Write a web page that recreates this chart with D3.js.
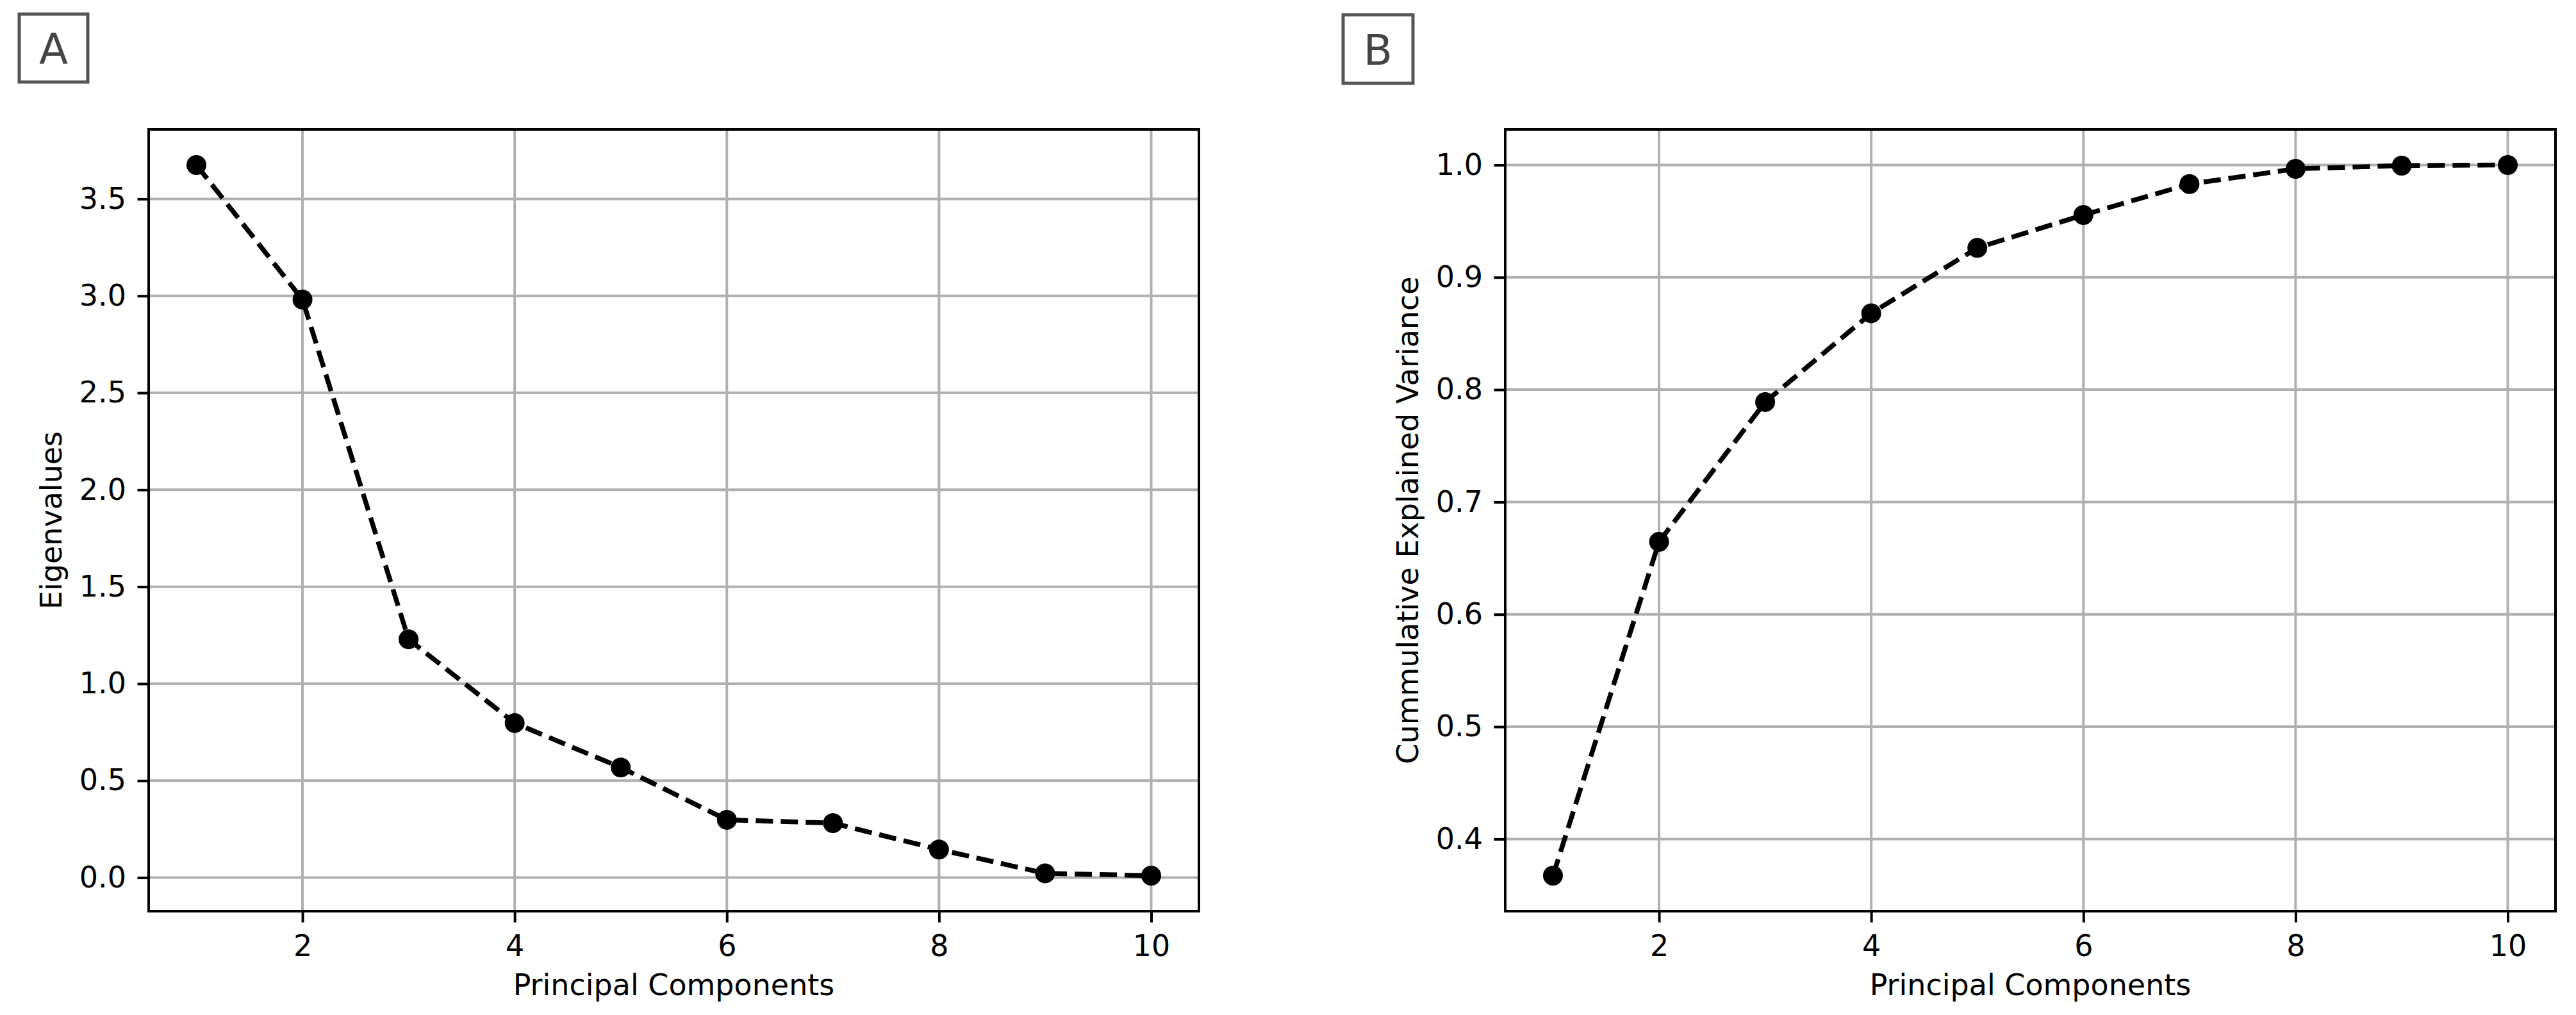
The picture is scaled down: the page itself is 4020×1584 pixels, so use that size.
<!DOCTYPE html>
<html>
<head>
<meta charset="utf-8">
<script src="https://cdn.jsdelivr.net/npm/d3@7"></script>
<style>
  html, body { margin: 0; padding: 0; background: #ffffff; }
  svg { display: block; }
  text { font-family: "DejaVu Sans", sans-serif; }
</style>
</head>
<body>
<svg id="chart" width="4020" height="1584"></svg>
<script>
// ---- Data ----
const components = [1, 2, 3, 4, 5, 6, 7, 8, 9, 10];
const eigenvalues = [3.675, 2.981, 1.229, 0.797, 0.568, 0.298, 0.281, 0.145, 0.022, 0.01];
const cumulativeVariance = [0.3674, 0.6646, 0.789, 0.868, 0.9262, 0.9555, 0.983, 0.9966, 0.9994, 1.0];
const xTicks = [2, 4, 6, 8, 10];
const yTicksA = [0.0, 0.5, 1.0, 1.5, 2.0, 2.5, 3.0, 3.5];
const yTicksB = [0.4, 0.5, 0.6, 0.7, 0.8, 0.9, 1.0];
const panelLetters = ["A", "B"];
const xLabel = "Principal Components";
const yLabels = ["Eigenvalues", "Cummulative Explained Variance"];

// ---- Layout ----
(function () {
const svg = d3.select("#chart");
svg.append("rect").attr("width", 4020).attr("height", 1584).attr("fill", "#fff");

const plotTop = 202, plotBottom = 1422;
const panels = [
  { left: 232, right: 1871, values: eigenvalues, yTicks: yTicksA, yLabel: yLabels[0], letter: panelLetters[0], box: { x: 30, y: 22, w: 107, h: 106 } },
  { left: 2349, right: 3988, values: cumulativeVariance, yTicks: yTicksB, yLabel: yLabels[1], letter: panelLetters[1], box: { x: 2096, y: 23, w: 109, h: 107 } }
];

const FS = 46;
const TICK = 17.5;
const PAD = 17.5;

function padded(ext) {
  const m = (ext[1] - ext[0]) * 0.05;
  return [ext[0] - m, ext[1] + m];
}

panels.forEach(p => {
  const g = svg.append("g");
  const x = d3.scaleLinear().domain(padded(d3.extent(components))).range([p.left, p.right]);
  const y = d3.scaleLinear().domain(padded(d3.extent(p.values))).range([plotBottom, plotTop]);

  // grid
  g.append("g").selectAll("line").data(xTicks).join("line")
    .attr("x1", d => x(d)).attr("x2", d => x(d))
    .attr("y1", plotTop).attr("y2", plotBottom)
    .attr("stroke", "#b0b0b0").attr("stroke-width", 4);
  g.append("g").selectAll("line").data(p.yTicks).join("line")
    .attr("y1", d => y(d)).attr("y2", d => y(d))
    .attr("x1", p.left).attr("x2", p.right)
    .attr("stroke", "#b0b0b0").attr("stroke-width", 4);

  // axes
  const xAxis = d3.axisBottom(x).tickValues(xTicks).tickSize(TICK).tickPadding(PAD).tickFormat(d3.format("d"));
  const yAxis = d3.axisLeft(y).tickValues(p.yTicks).tickSize(TICK).tickPadding(PAD).tickFormat(d3.format(".1f"));
  const gx = g.append("g").attr("transform", `translate(0,${plotBottom})`).call(xAxis);
  const gy = g.append("g").attr("transform", `translate(${p.left},0)`).call(yAxis);
  [gx, gy].forEach(a => {
    a.select(".domain").remove();
    a.selectAll(".tick line").attr("stroke", "#000").attr("stroke-width", 4);
    a.selectAll(".tick text").attr("fill", "#000").style("font-size", FS + "px").style("font-family", "DejaVu Sans");
  });
  gx.selectAll(".tick text").attr("dy", "0.76em");

  // line + markers
  const pts = components.map((c, i) => [c, p.values[i]]);
  const line = d3.line().x(d => x(d[0])).y(d => y(d[1]));
  g.append("path").datum(pts).attr("d", line)
    .attr("fill", "none").attr("stroke", "#000").attr("stroke-width", 7.5)
    .attr("stroke-dasharray", "27,12");
  g.append("g").selectAll("circle").data(pts).join("circle")
    .attr("cx", d => x(d[0])).attr("cy", d => y(d[1])).attr("r", 15.5)
    .attr("fill", "#000");

  // frame
  g.append("rect").attr("x", p.left).attr("y", plotTop)
    .attr("width", p.right - p.left).attr("height", plotBottom - plotTop)
    .attr("fill", "none").attr("stroke", "#000").attr("stroke-width", 4);

  // labels
  g.append("text").attr("x", (p.left + p.right) / 2).attr("y", 1553)
    .attr("text-anchor", "middle").style("font-size", FS + "px").attr("fill", "#000")
    .text(xLabel);
  const ly = (plotTop + plotBottom) / 2;
  const lx = p.left - 136;
  g.append("text").attr("transform", `translate(${lx},${ly}) rotate(-90)`)
    .attr("text-anchor", "middle").style("font-size", FS + "px").attr("fill", "#000")
    .text(p.yLabel);

  // panel letter box
  g.append("rect").attr("x", p.box.x).attr("y", p.box.y).attr("width", p.box.w).attr("height", p.box.h)
    .attr("fill", "#fff").attr("stroke", "#555").attr("stroke-width", 5);
  g.append("text").attr("x", p.box.x + p.box.w / 2).attr("y", p.box.y + p.box.h / 2 + 24)
    .attr("text-anchor", "middle").style("font-size", "66px").attr("fill", "#444")
    .text(p.letter);
});
})();
</script>
</body>
</html>
